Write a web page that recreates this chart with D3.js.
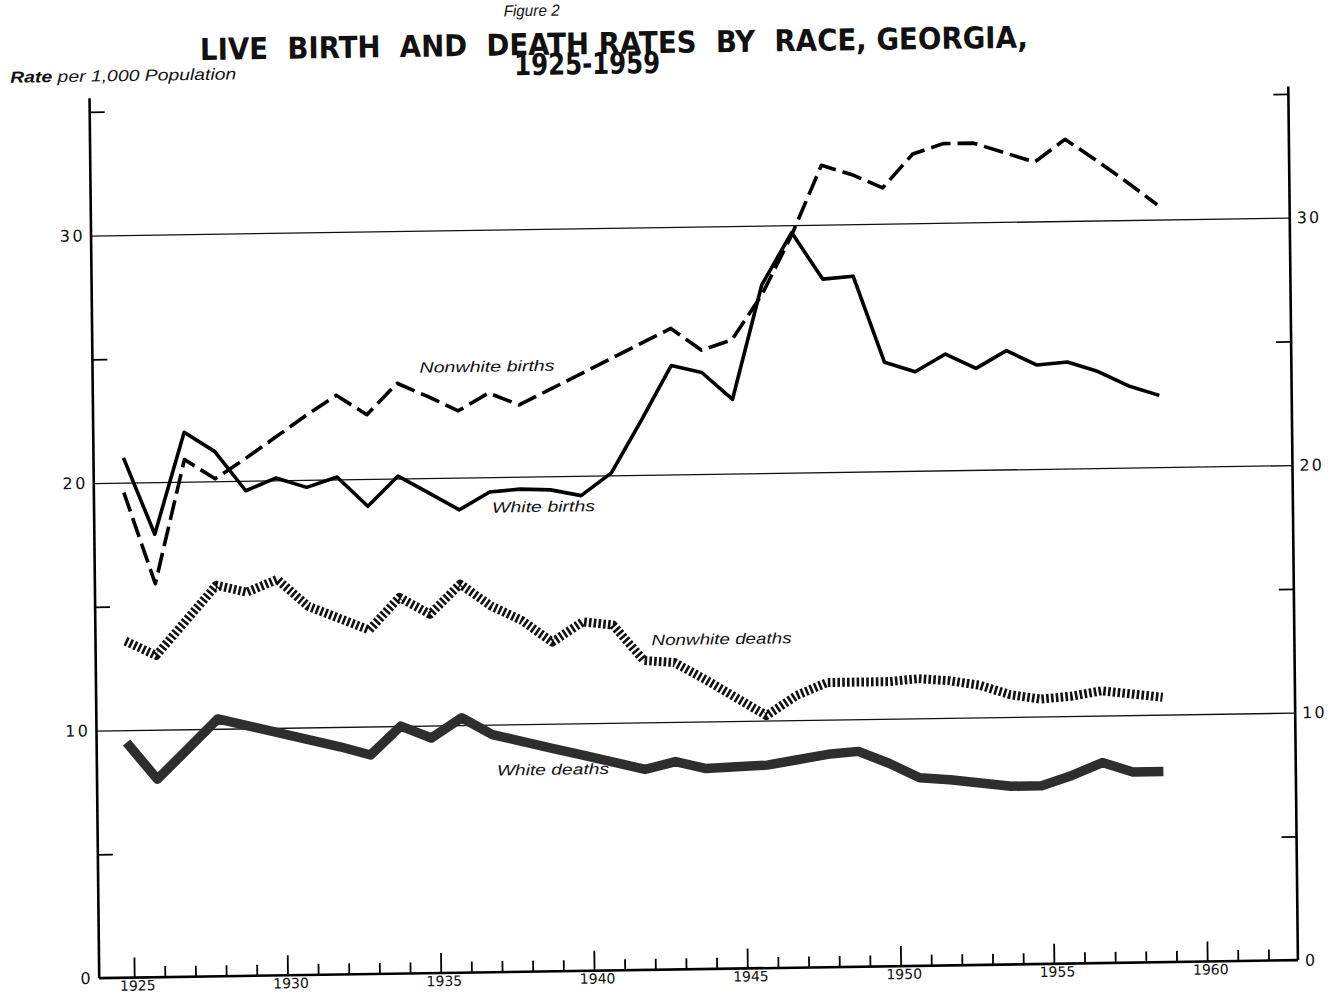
<!DOCTYPE html>
<html>
<head>
<meta charset="utf-8">
<script src="https://cdn.jsdelivr.net/npm/d3@7"></script>
<style>
  html, body { margin: 0; padding: 0; background: #fff; }
  svg { display: block; }
  text { fill: #111; }
</style>
</head>
<body>
<svg id="chart" width="1338" height="999"></svg>
<script>
// ---------------- data ----------------
const years = d3.range(1925, 1960);
const whiteBirths = [21.0, 17.9, 22.0, 21.2, 19.6, 20.1, 19.7, 20.1, 18.9, 20.1, 19.4, 18.7, 19.4, 19.5, 19.45, 19.2, 20.1, 22.2, 24.4, 24.1, 23.0, 27.6, 29.7, 27.8, 27.9, 24.4, 24.0, 24.7, 24.1, 24.8, 24.2, 24.3, 23.9, 23.3, 22.9];
const nonwhiteBirths = [19.6, 15.9, 20.9, 20.1, 20.9, 21.75, 22.6, 23.4, 22.6, 23.85, 23.3, 22.7, 23.4, 22.9, 23.5, 24.1, 24.7, 25.3, 25.9, 25.0, 25.4, 27.2, 29.6, 32.4, 32.0, 31.45, 32.8, 33.2, 33.2, 32.8, 32.4, 33.3, 32.45, 31.55, 30.6];
const nonwhiteDeaths = [13.6, 13.0, 14.4, 15.8, 15.5, 16.0, 14.9, 14.4, 13.9, 15.2, 14.5, 15.7, 14.8, 14.2, 13.3, 14.1, 13.95, 12.5, 12.4, 11.7, 10.95, 10.2, 11.0, 11.5, 11.5, 11.5, 11.6, 11.5, 11.3, 10.9, 10.7, 10.8, 11.0, 10.85, 10.7];
const whiteDeaths = [9.5, 8.0, 9.2, 10.4, 10.1, 9.8, 9.5, 9.2, 8.85, 10.0, 9.5, 10.3, 9.6, 9.3, 9.0, 8.7, 8.4, 8.1, 8.4, 8.1, 8.15, 8.2, 8.4, 8.6, 8.7, 8.2, 7.6, 7.5, 7.35, 7.2, 7.2, 7.6, 8.1, 7.7, 7.7];

const tickYears = d3.range(1925, 1963);
const majorYears = [1925, 1930, 1935, 1940, 1945, 1950, 1955, 1960];
const yLabelValues = [0, 10, 20, 30];
const yMinorValues = [5, 15, 25, 35];
const gridValues = [10, 20, 30];

const titleText = "LIVE  BIRTH  AND  DEATH RATES  BY  RACE, GEORGIA,";
const subTitleText = "1925-1959";
const figureText = "Figure 2";

// ---------------- scales ----------------
const x = d3.scaleLinear().domain([1925, 1960]).range([129, 1202]);
const xData = d3.scaleLinear().domain([1925, 1959]).range([x(1925) - 5, x(1959) - 11]);
const y = d3.scaleLinear().domain([0, 35]).range([969.5, 969.5 - 24.75 * 35]);
const xLeft = x(1923.86), xRight = x(1962.96);

const svg = d3.select("#chart");
svg.append("rect").attr("width", 1338).attr("height", 999).attr("fill", "#fff");
// the original scan is slightly skewed
const g = svg.append("g").attr("transform", "matrix(1,-0.015,0.011,1,-5.5,10.035)");

// ---------------- titles ----------------
g.append("text").attr("x", 537).attr("y", 14).attr("text-anchor", "middle")
  .style("font-family", "Liberation Sans, Arial, sans-serif").style("font-style", "italic")
  .style("font-size", "16px").attr("textLength", 56).attr("lengthAdjust", "spacingAndGlyphs")
  .text(figureText);

g.append("text").attr("x", 205).attr("y", 53)
  .style("font-family", "Liberation Sans Narrow, DejaVu Sans Condensed, Arial Narrow, sans-serif")
  .style("font-weight", "bold").style("font-size", "30px").style("white-space", "pre")
  .attr("textLength", 828).attr("lengthAdjust", "spacingAndGlyphs")
  .text(titleText);

g.append("text").attr("x", 592).attr("y", 73).attr("text-anchor", "middle")
  .style("font-family", "Liberation Sans Narrow, DejaVu Sans Condensed, Arial Narrow, sans-serif")
  .style("font-weight", "bold").style("font-size", "30px")
  .attr("textLength", 146).attr("lengthAdjust", "spacingAndGlyphs")
  .text(subTitleText);

const rate = g.append("text").attr("x", 15).attr("y", 73)
  .style("font-family", "Liberation Sans, Arial, sans-serif").style("font-style", "italic")
  .style("font-size", "16px").attr("textLength", 226).attr("lengthAdjust", "spacingAndGlyphs");
rate.append("tspan").style("font-weight", "bold").text("Rate ");
rate.append("tspan").text("per 1,000 Population");

// ---------------- grid lines ----------------
g.append("g").attr("transform", `translate(${xLeft},0)`)
  .call(d3.axisLeft(y).tickValues(gridValues).tickSize(-(xRight - xLeft)).tickFormat(""))
  .call(s => s.select(".domain").remove())
  .call(s => s.selectAll("line").attr("stroke", "#111").attr("stroke-width", 1.3));

// ---------------- left axis ----------------
g.append("line").attr("x1", xLeft).attr("x2", xLeft).attr("y1", y(0)).attr("y2", y(35.55))
  .attr("stroke", "#000").attr("stroke-width", 2.6);
g.append("g").attr("transform", `translate(${xLeft},0)`)
  .call(d3.axisLeft(y).tickValues(yMinorValues).tickSize(-15).tickFormat(""))
  .call(s => s.select(".domain").remove())
  .call(s => s.selectAll("line").attr("stroke", "#000").attr("stroke-width", 1.6));
g.append("g").attr("transform", `translate(${xLeft},0)`)
  .call(d3.axisLeft(y).tickValues(yLabelValues).tickSize(0).tickPadding(6).tickFormat(d3.format("d")))
  .call(s => s.select(".domain").remove())
  .call(s => s.selectAll("text").attr("fill", "#111")
    .style("font-family", "DejaVu Sans, sans-serif").style("font-size", "16px").style("letter-spacing", "2.5px"));

// ---------------- right axis ----------------
g.append("line").attr("x1", xRight).attr("x2", xRight).attr("y1", y(0)).attr("y2", y(35.3))
  .attr("stroke", "#000").attr("stroke-width", 2.6);
g.append("g").attr("transform", `translate(${xRight},0)`)
  .call(d3.axisRight(y).tickValues(yMinorValues).tickSize(-15).tickFormat(""))
  .call(s => s.select(".domain").remove())
  .call(s => s.selectAll("line").attr("stroke", "#000").attr("stroke-width", 1.6));
g.append("g").attr("transform", `translate(${xRight},0)`)
  .call(d3.axisRight(y).tickValues(yLabelValues).tickSize(0).tickPadding(7).tickFormat(d3.format("d")))
  .call(s => s.select(".domain").remove())
  .call(s => s.selectAll("text").attr("fill", "#111")
    .style("font-family", "DejaVu Sans, sans-serif").style("font-size", "16px").style("letter-spacing", "2px"));

// ---------------- bottom axis ----------------
g.append("line").attr("x1", xLeft).attr("x2", xRight).attr("y1", y(0)).attr("y2", y(0))
  .attr("stroke", "#000").attr("stroke-width", 2.6);
g.append("g").attr("transform", `translate(0,${y(0)})`)
  .call(d3.axisBottom(x).tickValues(tickYears.filter(v => !majorYears.includes(v))).tickSize(-11).tickFormat(""))
  .call(s => s.select(".domain").remove())
  .call(s => s.selectAll("line").attr("stroke", "#000").attr("stroke-width", 1.8));
g.append("g").attr("transform", `translate(0,${y(0)})`)
  .call(d3.axisBottom(x).tickValues(majorYears).tickSize(-20).tickPadding(3).tickFormat(d3.format("d")))
  .call(s => s.select(".domain").remove())
  .call(s => s.selectAll("line").attr("stroke", "#000").attr("stroke-width", 1.8))
  .call(s => s.selectAll("text").attr("fill", "#111").attr("dx", 3)
    .style("font-family", "DejaVu Sans, sans-serif").style("font-size", "14px"));

// ---------------- series ----------------
const line = d3.line().x((d, i) => xData(years[i])).y(d => y(d));

g.append("path").datum(whiteDeaths).attr("d", line)
  .attr("fill", "none").attr("stroke", "#2e2e2e").attr("stroke-width", 9.5)
  .attr("stroke-linejoin", "round").attr("stroke-linecap", "butt");

g.append("path").datum(nonwhiteDeaths).attr("d", line)
  .attr("fill", "none").attr("stroke", "#111").attr("stroke-width", 9)
  .attr("stroke-dasharray", "2.6,2.2").attr("stroke-linejoin", "round");

g.append("path").datum(nonwhiteBirths).attr("d", line)
  .attr("fill", "none").attr("stroke", "#000").attr("stroke-width", 3.6)
  .attr("stroke-dasharray", "20,7").attr("stroke-linejoin", "round");

g.append("path").datum(whiteBirths).attr("d", line)
  .attr("fill", "none").attr("stroke", "#000").attr("stroke-width", 3.6)
  .attr("stroke-linejoin", "round");

// ---------------- series labels ----------------
const seriesLabels = [
  { text: "Nonwhite births", x: 421, y: 369, w: 135 },
  { text: "White births", x: 492, y: 510, w: 103 },
  { text: "Nonwhite deaths", x: 650, y: 645, w: 140 },
  { text: "White deaths", x: 494, y: 773, w: 112 }
];
g.append("g").selectAll("text").data(seriesLabels).join("text")
  .attr("x", d => d.x).attr("y", d => d.y)
  .attr("textLength", d => d.w).attr("lengthAdjust", "spacingAndGlyphs")
  .style("font-family", "Liberation Sans, Arial, sans-serif").style("font-style", "italic")
  .style("font-size", "15px")
  .text(d => d.text);
</script>
</body>
</html>
